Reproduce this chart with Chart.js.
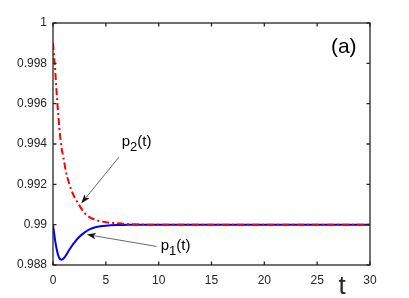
<!DOCTYPE html>
<html>
<head>
<meta charset="utf-8">
<script src="https://cdn.jsdelivr.net/npm/chart.js"></script>
<style>
  html, body { margin: 0; padding: 0; background: #fff; }
  #wrap { width: 409px; height: 298px; }
</style>
</head>
<body>
<div id="wrap"><canvas id="myChart"></canvas></div>
<script>
var tValues  = [0, 0.1, 0.2, 0.3, 0.4, 0.5, 0.6, 0.8, 1.0, 1.25, 1.5, 1.75, 2.0, 2.5, 3.0, 3.5, 4.0, 4.5, 5.0, 6.0, 7.0, 8.0, 9.0, 10, 15, 20, 25, 30];
var p1Values = [0.99000, 0.98960, 0.98922, 0.98892, 0.98866, 0.98847, 0.98834, 0.98826, 0.98832, 0.98850, 0.98872, 0.98892, 0.98910, 0.98940, 0.98962, 0.98978, 0.98987, 0.98992, 0.98995, 0.98998, 0.98999, 0.99000, 0.99000, 0.99, 0.99, 0.99, 0.99, 0.99];
var p2Values = [0.99900, 0.99835, 0.99770, 0.99690, 0.99615, 0.99545, 0.99480, 0.99385, 0.99330, 0.99256, 0.99210, 0.99170, 0.99140, 0.99095, 0.99057, 0.99036, 0.99024, 0.99017, 0.99012, 0.99007, 0.99003, 0.99001, 0.99000, 0.99, 0.99, 0.99, 0.99, 0.99];
var xTicks = [0, 5, 10, 15, 20, 25, 30];
var yTicks = [0.988, 0.99, 0.992, 0.994, 0.996, 0.998, 1];

var axisColor = "#262626";
var font = "Liberation Sans, Arial, Helvetica, sans-serif";

function pts(ys) {
  return tValues.map(function (t, i) { return {x: t, y: ys[i]}; });
}

function arrow(ctx, x1, y1, x2, y2) {
  var ang = Math.atan2(y2 - y1, x2 - x1);
  var len = 9, half = 3.2;
  ctx.strokeStyle = "#444";
  ctx.lineWidth = 0.8;
  ctx.beginPath();
  ctx.moveTo(x1, y1);
  ctx.lineTo(x2 - Math.cos(ang) * len * 0.8, y2 - Math.sin(ang) * len * 0.8);
  ctx.stroke();
  ctx.fillStyle = "#111";
  ctx.beginPath();
  ctx.moveTo(x2, y2);
  ctx.lineTo(x2 - Math.cos(ang) * len - Math.sin(ang) * half, y2 - Math.sin(ang) * len + Math.cos(ang) * half);
  ctx.lineTo(x2 - Math.cos(ang) * len * 0.75, y2 - Math.sin(ang) * len * 0.75);
  ctx.lineTo(x2 - Math.cos(ang) * len + Math.sin(ang) * half, y2 - Math.sin(ang) * len - Math.cos(ang) * half);
  ctx.closePath();
  ctx.fill();
}

function subLabel(ctx, x, y, base, sub, rest) {
  ctx.fillStyle = "#000";
  ctx.textBaseline = "alphabetic";
  ctx.textAlign = "left";
  ctx.font = "15px " + font;
  ctx.fillText(base, x, y);
  x += ctx.measureText(base).width;
  ctx.font = "13px " + font;
  ctx.fillText(sub, x, y + 5);
  x += ctx.measureText(sub).width;
  ctx.font = "15px " + font;
  ctx.fillText(rest, x, y);
}

var frame = {
  id: "frame",
  afterDraw: function (chart) {
    var ctx = chart.ctx, a = chart.chartArea;
    var xs = chart.scales.x, ys = chart.scales.y;
    ctx.save();
    ctx.strokeStyle = axisColor;
    ctx.lineWidth = 1.3;
    ctx.strokeRect(a.left, a.top, a.right - a.left, a.bottom - a.top);
    ctx.beginPath();
    xTicks.forEach(function (v) {
      var x = xs.getPixelForValue(v);
      ctx.moveTo(x, a.bottom); ctx.lineTo(x, a.bottom - 3.5);
      ctx.moveTo(x, a.top); ctx.lineTo(x, a.top + 3.5);
    });
    yTicks.forEach(function (v) {
      var y = ys.getPixelForValue(v);
      ctx.moveTo(a.left, y); ctx.lineTo(a.left + 3.5, y);
      ctx.moveTo(a.right, y); ctx.lineTo(a.right - 3.5, y);
    });
    ctx.stroke();

    // panel tag
    ctx.fillStyle = "#000";
    ctx.font = "21px " + font;
    ctx.textAlign = "left";
    ctx.textBaseline = "middle";
    ctx.fillText("(a)", xs.getPixelForValue(26.3), ys.getPixelForValue(0.99882));

    // axis title
    ctx.fillStyle = axisColor;
    ctx.font = "26px " + font;
    ctx.textAlign = "center";
    ctx.textBaseline = "alphabetic";
    ctx.fillText("t", xs.getPixelForValue(27.35), a.bottom + 29);

    // curve labels and arrows
    subLabel(ctx, xs.getPixelForValue(6.5), ys.getPixelForValue(0.99391), "p", "2", "(t)");
    subLabel(ctx, xs.getPixelForValue(10.2), ys.getPixelForValue(0.98875), "p", "1", "(t)");
    arrow(ctx, xs.getPixelForValue(6.25), ys.getPixelForValue(0.99335), xs.getPixelForValue(2.68), ys.getPixelForValue(0.99106));
    arrow(ctx, xs.getPixelForValue(9.8), ys.getPixelForValue(0.98892), xs.getPixelForValue(3.2), ys.getPixelForValue(0.98951));
    ctx.restore();
  }
};

new Chart("myChart", {
  type: "line",
  data: {
    datasets: [{
      label: "p2(t)",
      data: pts(p2Values),
      borderColor: "#ff0000",
      borderWidth: 2,
      borderDash: [7, 3, 2, 3],
      pointRadius: 0,
      fill: false,
      cubicInterpolationMode: "monotone",
      order: 0
    }, {
      label: "p1(t)",
      data: pts(p1Values),
      borderColor: "#0000ff",
      borderWidth: 2,
      pointRadius: 0,
      fill: false,
      cubicInterpolationMode: "monotone",
      order: 1
    }]
  },
  options: {
    responsive: true,
    maintainAspectRatio: false,
    animation: false,
    layout: {padding: {left: 0, right: 39, top: 23, bottom: 0}},
    plugins: {legend: {display: false}, tooltip: {enabled: false}},
    scales: {
      x: {
        type: "linear",
        min: 0, max: 30,
        afterBuildTicks: function (s) { s.ticks = xTicks.map(function (v) { return {value: v}; }); },
        afterFit: function (s) { s.height = 33; },
        grid: {display: false, drawTicks: false},
        border: {display: false},
        ticks: {color: axisColor, font: {family: font, size: 12}, padding: 8, maxRotation: 0}
      },
      y: {
        type: "linear",
        min: 0.988, max: 1,
        afterBuildTicks: function (s) { s.ticks = yTicks.map(function (v) { return {value: v}; }); },
        afterFit: function (s) { s.width = 53; },
        grid: {display: false, drawTicks: false},
        border: {display: false},
        ticks: {
          color: axisColor, font: {family: font, size: 12}, padding: 6,
          callback: function (v) { return String(parseFloat(Number(v).toFixed(3))); }
        }
      }
    }
  },
  plugins: [frame]
});
</script>
</body>
</html>
